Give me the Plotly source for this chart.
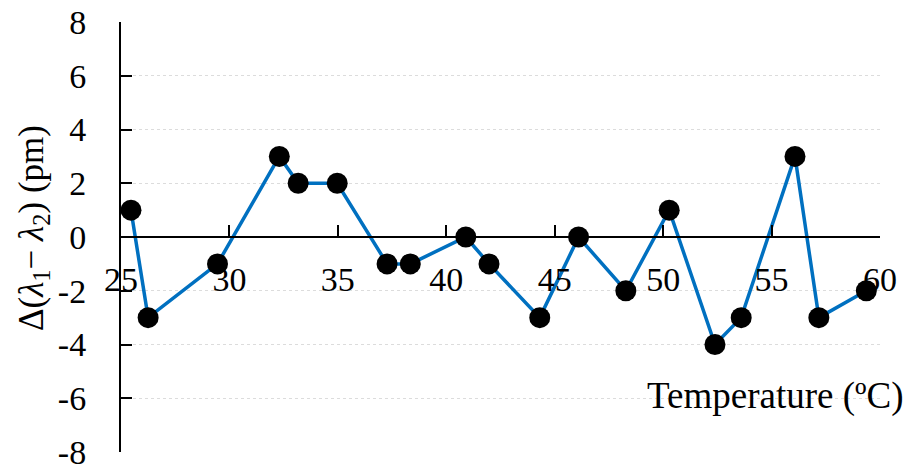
import plotly.graph_objects as go

# Wavelength difference vs temperature
temperature = [25.46, 26.25, 29.45, 32.3, 33.17, 34.97, 37.27, 38.34, 40.9, 41.97,
               44.31, 46.1, 48.28, 50.28, 52.39, 53.6, 56.08, 57.18, 59.37]
delta_pm = [1, -3, -1, 3, 2, 2, -1, -1, 0, -1, -3, 0, -2, 1, -4, -3, 3, -3, -2]

x_ticks = [25, 30, 35, 40, 45, 50, 55, 60]
y_ticks = [-8, -6, -4, -2, 0, 2, 4, 6, 8]

FONT = "Liberation Serif, Times New Roman, serif"

fig = go.Figure()
fig.add_trace(go.Scatter(
    x=temperature, y=delta_pm, mode="lines+markers",
    line=dict(color="#0070C0", width=3.5),
    marker=dict(color="black", size=21),
    showlegend=False, cliponaxis=False,
))

fig.update_layout(
    width=908, height=468,
    margin=dict(l=121, r=28, t=22, b=16, autoexpand=False),
    plot_bgcolor="white", paper_bgcolor="white",
    font=dict(family=FONT, size=33, color="black"),
    xaxis=dict(
        range=[25, 60], tickvals=x_ticks, ticktext=[str(v) for v in x_ticks],
        anchor="free", position=0.5, side="bottom",
        showline=True, linecolor="black", linewidth=2,
        ticks="inside", ticklen=11, tickwidth=2, tickcolor="black",
        ticklabelstandoff=12, ticklabeloverflow="allow",
        showgrid=False, zeroline=False,
        tickfont=dict(family=FONT, size=34),
    ),
    yaxis=dict(
        range=[-8, 8], tickvals=y_ticks, ticktext=[str(v) for v in y_ticks],
        showline=True, linecolor="black", linewidth=2,
        ticks="inside", ticklen=11, tickwidth=2, tickcolor="black",
        ticklabelstandoff=26, ticklabeloverflow="allow",
        showgrid=True, gridcolor="#dcdcdc", gridwidth=1, griddash="dot",
        zeroline=False,
        tickfont=dict(family=FONT, size=34),
    ),
    annotations=[
        dict(text="Δ(<i>λ</i><sub>1</sub>− <i>λ</i><sub>2</sub>) (pm)",
             xref="paper", yref="paper", x=(33 - 121) / 759, y=(452 - 228) / 430,
             xanchor="center", yanchor="middle", textangle=-90, showarrow=False,
             font=dict(family=FONT, size=35)),
        dict(text="Temperature (ºC)",
             xref="paper", yref="paper", x=(905 - 121) / 759, y=(452 - 396) / 430,
             xanchor="right", yanchor="middle", showarrow=False,
             font=dict(family=FONT, size=37)),
    ],
)

fig.write_html("out.html", post_script="document.body.style.margin='0';")
